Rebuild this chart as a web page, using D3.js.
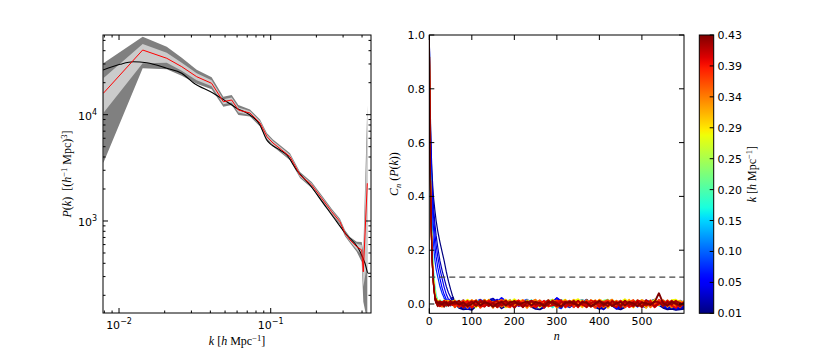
<!DOCTYPE html>
<html>
<head>
<meta charset="utf-8">
<script src="https://cdn.jsdelivr.net/npm/d3@7"></script>
<style>
  body { margin: 0; background: #fff; }
  text { font-family: "DejaVu Sans", sans-serif; font-size: 11px; fill: #000; }
  .math { font-family: "Liberation Serif", serif; font-size: 12px; white-space: pre; }
</style>
</head>
<body>
<svg id="fig" width="830" height="349"></svg>
<script>
// ---------- left panel: P(k) ----------
// measured bins (red line)
const kBins = [0.00788, 0.01432, 0.02063, 0.0259, 0.0325, 0.0408, 0.0487, 0.0553, 0.0612, 0.0730,
  0.0850, 0.0945, 0.1035, 0.1182, 0.1340, 0.156, 0.1863, 0.2169, 0.2523, 0.2862,
  0.309, 0.3334, 0.369, 0.398, 0.4078, 0.4333];
const pBins = [15900, 40600, 33950, 28300, 22770, 19730, 13250, 13740, 11070, 10370,
  8356, 6205, 5416, 4656, 4027, 2710, 2182, 1635, 1223, 984,
  766, 662, 573, 533, 333, 2265];
// band half-widths in dex (inner = light grey, outer = dark grey)
const sig1Up = [0.141, 0.056, 0.053, 0.038, 0.033, 0.028, 0.024, 0.024, 0.024, 0.019,
  0.019, 0.019, 0.019, 0.019, 0.019, 0.014, 0.014, 0.014, 0.014, 0.014,
  0.014, 0.014, 0.028, 0.047, 0.094, 0.56];
const sig1Dn = [0.185, 0.125, 0.041, 0.038, 0.033, 0.028, 0.024, 0.024, 0.024, 0.019,
  0.019, 0.019, 0.019, 0.019, 0.019, 0.014, 0.014, 0.014, 0.014, 0.014,
  0.014, 0.014, 0.028, 0.047, 0.141, 0.75];
const sig2Up = [0.282, 0.125, 0.109, 0.085, 0.066, 0.056, 0.047, 0.047, 0.047, 0.033,
  0.033, 0.033, 0.033, 0.033, 0.033, 0.028, 0.028, 0.028, 0.028, 0.028,
  0.028, 0.028, 0.047, 0.075, 0.188, 0.734];
const sig2Dn = [0.656, 0.172, 0.103, 0.085, 0.066, 0.056, 0.047, 0.047, 0.047, 0.033,
  0.033, 0.033, 0.033, 0.033, 0.033, 0.028, 0.028, 0.028, 0.028, 0.028,
  0.028, 0.028, 0.047, 0.113, 0.282, 1.3];
// model (black line)
const kModel = [0.00784, 0.01015, 0.01242, 0.01523, 0.02063, 0.0259, 0.03089, 0.04183, 0.05129, 0.05971,
  0.0730, 0.0850, 0.0941, 0.1151, 0.1275, 0.1484, 0.1815, 0.2222, 0.2723, 0.3170,
  0.3779, 0.4183, 0.4397, 0.4583];
const pModel = [26330, 29790, 31520, 30850, 27330, 24520, 20000, 15900, 13250, 11490,
  9930, 8000, 5780, 4656, 4180, 3015, 2181, 1467, 985, 738,
  554, 400, 322, 322];

// ---------- right panel: C_n(P(k)) ----------
const lineK = [0.01, 0.03, 0.05, 0.06, 0.08, 0.17, 0.22, 0.28, 0.31, 0.34, 0.35, 0.37, 0.39, 0.40, 0.41, 0.42, 0.43];
const lagDecay = [0, 1, 2, 3, 4, 6, 8, 10, 13, 16, 20, 25, 30, 35, 40, 45, 50, 55];
const lagTail = d3.range(60, 600, 10).concat([599]);
// values in units of 0.001
const decayVals = [
  [1000, 860, 750, 660, 590, 500, 440, 395, 350, 310, 270, 230, 195, 160, 120, 85, 55, 28],
  [1000, 850, 730, 640, 570, 475, 410, 360, 300, 255, 210, 160, 125, 95, 65, 42, 25, 12],
  [1000, 840, 710, 610, 540, 440, 375, 325, 265, 220, 175, 130, 95, 62, 36, 18, 8, 0],
  [1000, 820, 680, 580, 500, 400, 330, 280, 220, 175, 135, 95, 60, 35, 18, 6, 10, 6],
  [1000, 800, 640, 530, 450, 340, 270, 220, 165, 130, 100, 65, 40, 22, 10, 3, -6, 12],
  [1000, 780, 600, 470, 380, 260, 180, 125, 70, 35, 12, -6, 10, 4, -8, 6, 12, -2],
  [1000, 770, 580, 450, 360, 240, 160, 110, 55, 25, 6, 14, -4, 8, 12, 2, 6, 10],
  [1000, 760, 570, 440, 345, 225, 145, 95, 45, 18, 12, 6, -8, 14, 4, 10, -4, 8],
  [1000, 760, 560, 430, 335, 215, 135, 85, 38, 14, -6, 10, 4, -8, 6, 12, 2, -4],
  [1000, 755, 555, 425, 330, 210, 130, 80, 34, 10, 8, 2, -6, 10, 4, -2, 8, 4],
  [1000, 752, 552, 422, 328, 208, 128, 78, 32, 12, -4, 8, -10, 6, 12, -6, 4, 10],
  [1000, 750, 550, 420, 325, 205, 125, 76, 30, 12, 2, -8, 6, 4, -4, 8, -2, 6],
  [1000, 750, 550, 420, 320, 200, 122, 72, 28, 8, -6, 4, 8, -4, 2, -6, 6, -2],
  [1000, 748, 548, 418, 320, 199, 121, 71, 27, 4, 10, -8, 2, 12, -6, 4, 10, -4],
  [1000, 745, 545, 415, 318, 198, 120, 70, 26, 10, 2, -6, 4, 8, -2, 4, -4, 6],
  [1000, 745, 545, 415, 316, 196, 119, 69, 25, 8, -8, 10, 4, -10, 8, -2, 12, 2],
  [1000, 745, 545, 415, 315, 195, 118, 68, 24, 6, 6, 2, -2, 6, 4, -6, 2, 4]
];
const tailVals = [
  [2, -14, -20, -18, -22, -8, 4, 10, 6, 14, 2, -16, -6, 8, 3, -4, 6, 2, -10, -18,
   -20, -12, 4, 12, 18, 6, -4, 2, 8, -2, 6, 16, 2, -12, -18, -14, 2, -6, -16, -20,
   -12, 0, 8, 4, -2, 6, 12, 4, -4, -14, -20, -18, -22, -20, -18],
  [8, -6, -16, -4, 6, 12, 2, -8, 14, 20, 6, -4, 10, -2, -12, 4, 8, -6, 2, -14,
   -4, 6, -8, 10, 20, 8, -6, -12, 4, 10, 14, 4, -8, 2, -10, -20, -6, 10, -8, -14,
   4, 10, -2, -8, 6, -4, 10, 16, 6, -10, -16, -12, -20, -16, -14],
  [-4, 10, -8, -18, -12, 4, 12, 6, -6, 8, 16, 4, -10, -4, 10, 2, -8, 4, 12, 2,
   -8, -14, 2, 8, -4, 14, 6, -6, -10, 4, 10, -2, 6, -8, -14, 2, 8, -4, -18, -8,
   6, -2, 12, 2, -8, -12, 4, 8, -2, -8, -12, -6, -16, -10, -8],
  [12, 4, -6, 6, -10, -4, 8, 14, 2, -6, 8, 22, 10, -4, 6, -8, 2, 10, -4, 8,
   -2, 6, 14, -6, 22, 10, -2, 6, -8, 2, 4, 12, -6, 6, 0, -8, 6, 2, -6, 4,
   10, 6, -4, 8, 12, 2, -6, 6, 14, 4, -4, 4, -6, 2, -2],
  [10, -2, 14, 4, -6, 8, 16, 6, -4, 10, 2, 8, -8, 12, 4, -2, 10, 16, 4, -6,
   12, 2, -4, 8, -10, -16, 4, 12, 0, -8, 14, 6, -4, 2, 10, -6, -12, 6, 2, 12,
   -4, 8, 2, -10, 6, 14, 4, -2, 10, 2, 8, -4, 6, 12, 4],
  [-12, 6, 10, -4, 8, 2, -6, 12, 6, -2, -10, 4, 12, 6, -4, 10, -8, -2, 14, 6,
   -6, 8, 2, -12, 4, 14, 8, -2, 6, -8, 2, -10, 6, 12, 2, -6, 8, 14, 4, -2,
   -10, 6, 12, -2, 4, -8, 2, 10, -6, 6, 12, 2, -6, 8, 2],
  [4, 12, -6, 8, -2, 14, 4, -8, 10, 2, -4, 12, 6, 16, -6, 2, 12, -4, 8, 14,
   4, -8, 10, 16, 6, -2, 12, 4, -6, 8, 14, 2, 10, -4, 6, 12, 16, -2, 8, 4,
   12, -6, 6, 14, 2, 8, -4, 10, 4, 12, 2, 10, 4, -6, 8],
  [14, -10, 6, 16, 2, -12, 8, 4, 16, -8, 8, 14, -12, 4, 18, 6, -10, 14, 2, 12,
   -12, 4, 14, 6, -14, 8, 16, -4, 10, 18, 4, -8, 14, 8, -12, 6, 2, 16, -10, 6,
   18, 4, -12, 8, 14, -8, 2, 16, 6, 12, -10, 14, 16, 4, 10],
  [-10, 12, 2, -14, 14, 4, -6, 16, -2, 8, -12, 8, 16, 2, -8, 10, 14, -12, 4, -6,
   12, 2, -10, 16, 4, 10, -12, 6, 16, 2, -12, 14, 4, -4, 16, 8, -14, 4, 12, -6,
   2, 16, -12, 8, 4, -14, 14, 2, -4, 10, 4, -12, 8, 12, -4],
  [12, -6, 14, 2, -12, 8, -4, 14, 4, -14, 8, -10, 2, 14, -6, 10, 2, -14, 8, 16,
   -6, 8, -4, 12, -12, 4, 14, -8, 2, -6, 12, 2, -10, 14, 4, -12, 8, 16, -6, 2,
   -10, 12, 4, -4, 14, 8, -12, 4, 10, -8, 14, 2, -8, 6, 10],
  [-4, 10, -12, 6, 14, -2, -10, 8, 12, -6, 2, 14, -8, -12, 6, 12, -4, 8, -10, 4,
   14, -6, 2, 10, -12, -4, 12, 6, -8, 10, -2, 12, -8, 6, 14, -10, 2, -6, 12, 4,
   -12, 8, 14, -6, 2, 12, -10, 6, -4, 14, 2, -10, 8, -4, 6],
  [-12, 4, 12, -8, 6, 14, -14, 2, 10, -6, 6, 14, -4, -12, 8, -6, 14, 4, -10, 2,
   12, -14, 6, 2, 14, -8, 4, 12, -12, 8, -6, 12, 2, -14, -2, 8, 14, -6, 4, 12,
   -12, 2, 14, -6, -8, 12, 2, -6, 16, 4, -8, 10, 2, -12, 4],
  [6, -10, -2, 12, -14, 2, 10, -8, 14, 2, -12, 0, 12, -8, 4, 14, -6, 8, -4, -12,
   2, 12, -8, -6, 8, 14, -12, 2, 6, -10, 8, -4, 14, 6, -12, 2, -8, 12, -2, 8,
   6, -12, -4, 14, 2, -6, 12, -10, 8, -4, 12, -6, -14, 4, -2],
  [10, -4, 8, -12, 2, 12, -6, -10, 8, 4, -4, 10, 6, -8, 12, -2, -10, 6, 12, -6,
   4, -12, 8, 2, -4, 12, -8, 10, 4, -12, 10, -6, 2, 12, -10, 4, 8, -4, -12, 10,
   -2, 6, -10, 12, 8, -6, 4, -12, 2, 10, -6, 4, 12, -8, 6],
  [-2, 8, -12, 2, 8, -6, 14, 2, -8, 6, 12, -6, 2, 8, -14, 4, 0, -8, 12, 6,
   -8, 2, 14, -2, -8, 6, 8, -6, 0, 12, -2, -12, 4, 8, 2, -8, 6, -2, 8, -12,
   12, -6, 8, 2, -12, 14, 4, -8, 2, 8, 0, 12, -2, -8, 6],
  [4, 12, -6, -2, 10, -8, 6, 12, -4, 2, -10, 6, 12, -4, 2, 8, -12, 4, 10, -2,
   6, -8, -2, 12, 4, -10, 8, 2, 12, -6, 4, 8, -10, -2, 12, 4, -8, 10, 2, -6,
   12, 2, -6, 8, -10, 4, -4, 10, 6, -8, 8, -2, 10, 4, -6],
  [8, -2, 6, -8, 0, 10, -6, 6, 2, -10, 2, 8, -6, 6, 10, -2, 4, 10, -6, 8,
   2, -6, 8, 6, -2, -10, 4, 8, 2, -6, 8, 4, -8, 2, 10, -2, 6, -8, 2, 8,
   -6, 8, 2, -8, 6, 2, -2, 8, 40, 2, -6, 8, 2, -6, 6]
];
const threshold = 0.1;
const cbTickLabels = ['0.01', '0.05', '0.10', '0.15', '0.20', '0.25', '0.29', '0.34', '0.39', '0.43'];
const kRange = [0.01, 0.43];

// matplotlib "jet"
const jetSeg = {
  r: [[0, 0], [0.35, 0], [0.66, 1], [0.89, 1], [1, 0.5]],
  g: [[0, 0], [0.125, 0], [0.375, 1], [0.64, 1], [0.91, 0], [1, 0]],
  b: [[0, 0.5], [0.11, 1], [0.34, 1], [0.65, 0], [1, 0]]
};
function seg(s, t) {
  for (let i = 1; i < s.length; i++) {
    if (t <= s[i][0]) {
      let f = (t - s[i - 1][0]) / (s[i][0] - s[i - 1][0]);
      return s[i - 1][1] + f * (s[i][1] - s[i - 1][1]);
    }
  }
  return s[s.length - 1][1];
}
function jet(t) {
  t = Math.max(0, Math.min(1, t));
  return d3.rgb(seg(jetSeg.r, t) * 255, seg(jetSeg.g, t) * 255, seg(jetSeg.b, t) * 255).toString();
}

const svg = d3.select('#fig');
svg.append('rect').attr('width', 830).attr('height', 349).attr('fill', '#fff');

// math-ish labels: parts = [text, flags]
function addMath(sel, parts) {
  let off = 0;
  parts.forEach(([t, s]) => {
    let target = s.includes('sup') ? -4.5 : s.includes('sub') ? 3 : 0;
    let ts = sel.append('tspan').text(t).attr('dy', target - off);
    off = target;
    if (s.includes('i')) ts.attr('font-style', 'italic');
    if (target !== 0) ts.attr('font-size', '8.5px');
  });
}

function tickLine(g, x1, y1, x2, y2) {
  g.append('line').attr('x1', x1).attr('y1', y1).attr('x2', x2).attr('y2', y2)
    .attr('stroke', '#000').attr('stroke-width', 1);
}

// ===== left panel =====
const L = { x0: 103, x1: 371, y0: 35, y1: 313 };
const xk = d3.scaleLog().domain([0.00784, 0.4583]).range([L.x0, L.x1]);
const yp = d3.scaleLog().domain([136.3, 56200]).range([L.y1, L.y0]);

svg.append('clipPath').attr('id', 'clipL').append('rect')
  .attr('x', L.x0).attr('y', L.y0).attr('width', L.x1 - L.x0).attr('height', L.y1 - L.y0);

const bins = kBins.map((k, i) => ({ k, p: pBins[i], u1: sig1Up[i], d1: sig1Dn[i], u2: sig2Up[i], d2: sig2Dn[i] }));
const gL = svg.append('g').attr('clip-path', 'url(#clipL)');

gL.append('path').datum(bins)
  .attr('d', d3.area().x(d => xk(d.k)).y0(d => yp(d.p / 10 ** d.d2)).y1(d => yp(d.p * 10 ** d.u2)))
  .attr('fill', '#808080');
gL.append('path').datum(bins)
  .attr('d', d3.area().x(d => xk(d.k)).y0(d => yp(d.p / 10 ** d.d1)).y1(d => yp(d.p * 10 ** d.u1)))
  .attr('fill', '#cbcbcb');
gL.append('path').datum(kModel.map((k, i) => [k, pModel[i]]))
  .attr('d', d3.line().x(d => xk(d[0])).y(d => yp(d[1])).curve(d3.curveMonotoneX))
  .attr('fill', 'none').attr('stroke', '#000').attr('stroke-width', 1.1);
gL.append('path').datum(bins)
  .attr('d', d3.line().x(d => xk(d.k)).y(d => yp(d.p)))
  .attr('fill', 'none').attr('stroke', '#ff0000').attr('stroke-width', 1);

const isMajor = v => Math.abs(Math.log10(v) - Math.round(Math.log10(v))) < 1e-6;
const axL = svg.append('g');
xk.ticks().forEach(v => {
  let len = isMajor(v) ? 5 : 2.5;
  let x = xk(v);
  tickLine(axL, x, L.y1, x, L.y1 - len);
  tickLine(axL, x, L.y0, x, L.y0 + len);
  if (isMajor(v)) {
    let t = axL.append('text').attr('x', x).attr('y', 329).attr('text-anchor', 'middle');
    t.append('tspan').text('10');
    t.append('tspan').text('\u2212' + Math.abs(Math.round(Math.log10(v)))).attr('dy', -5).attr('font-size', '8px');
  }
});
yp.ticks().forEach(v => {
  let len = isMajor(v) ? 5 : 2.5;
  let y = yp(v);
  tickLine(axL, L.x0, y, L.x0 + len, y);
  tickLine(axL, L.x1, y, L.x1 - len, y);
  if (isMajor(v)) {
    let t = axL.append('text').attr('x', 97).attr('y', y + 5).attr('text-anchor', 'end');
    t.append('tspan').text('10');
    t.append('tspan').text(Math.round(Math.log10(v))).attr('dy', -5).attr('font-size', '8px');
  }
});
axL.append('rect').attr('x', L.x0).attr('y', L.y0).attr('width', L.x1 - L.x0).attr('height', L.y1 - L.y0)
  .attr('fill', 'none').attr('stroke', '#000').attr('stroke-width', 1);

addMath(svg.append('text').attr('class', 'math').attr('x', (L.x0 + L.x1) / 2).attr('y', 345).attr('text-anchor', 'middle'),
  [['k', 'i'], [' [', ''], ['h', 'i'], [' Mpc', ''], ['\u22121', 'sup'], [']', '']]);
addMath(svg.append('text').attr('class', 'math').attr('text-anchor', 'middle')
    .attr('transform', `translate(71,${(L.y0 + L.y1) / 2}) rotate(-90)`),
  [['P', 'i'], ['(', ''], ['k', 'i'], [')  [(', ''], ['h', 'i'], ['\u22121', 'sup'], [' Mpc)', ''], ['3', 'sup'], [']', '']]);

// ===== right panel =====
const R = { x0: 429.3, x1: 684, y0: 35, y1: 313.3 };
const xn = d3.scaleLinear().domain([0, 599]).range([R.x0, R.x1]);
const yc = d3.scaleLinear().domain([-0.0346, 1]).range([R.y1, R.y0]);
const kScale = d3.scaleLinear().domain(kRange).range([0, 1]).clamp(true);

svg.append('clipPath').attr('id', 'clipR').append('rect')
  .attr('x', R.x0).attr('y', R.y0).attr('width', R.x1 - R.x0).attr('height', R.y1 - R.y0);
const gR = svg.append('g').attr('clip-path', 'url(#clipR)');

const corrLine = d3.line().x(d => xn(d[0])).y(d => yc(d[1]));
lineK.forEach((k, i) => {
  let pts = lagDecay.map((n, j) => [n, decayVals[i][j] / 1000])
    .concat(lagTail.map((n, j) => [n, tailVals[i][j] / 1000]))
    .filter(d => d[1] !== undefined && !isNaN(d[1]));
  // thin while falling, heavier once in the noise around zero
  let cut = pts.findIndex(d => d[1] < 0.03);
  gR.append('path').datum(pts.slice(0, cut + 1)).attr('d', corrLine)
    .attr('fill', 'none').attr('stroke', jet(kScale(k))).attr('stroke-width', 1.2);
  gR.append('path').datum(pts.slice(cut)).attr('d', corrLine)
    .attr('fill', 'none').attr('stroke', jet(kScale(k))).attr('stroke-width', 1.9)
    .attr('stroke-linejoin', 'round');
});

gR.append('line').attr('x1', R.x0).attr('x2', R.x1).attr('y1', yc(threshold)).attr('y2', yc(threshold))
  .attr('stroke', '#444').attr('stroke-width', 1.2).attr('stroke-dasharray', '6,4');

const axR = svg.append('g');
xn.ticks(6).forEach(v => {
  let x = xn(v);
  tickLine(axR, x, R.y1, x, R.y1 - 5);
  tickLine(axR, x, R.y0, x, R.y0 + 5);
  axR.append('text').attr('x', x).attr('y', 325).attr('text-anchor', 'middle').text(v);
});
yc.ticks(5).forEach(v => {
  let y = yc(v);
  tickLine(axR, R.x0, y, R.x0 + 5, y);
  tickLine(axR, R.x1, y, R.x1 - 5, y);
  axR.append('text').attr('x', 425).attr('y', y + 4).attr('text-anchor', 'end').text(d3.format('.1f')(v));
});
axR.append('rect').attr('x', R.x0).attr('y', R.y0).attr('width', R.x1 - R.x0).attr('height', R.y1 - R.y0)
  .attr('fill', 'none').attr('stroke', '#000').attr('stroke-width', 1);

addMath(svg.append('text').attr('class', 'math').attr('x', (R.x0 + R.x1) / 2).attr('y', 340).attr('text-anchor', 'middle'),
  [['n', 'i']]);
addMath(svg.append('text').attr('class', 'math').attr('text-anchor', 'middle')
    .attr('transform', `translate(398,${(R.y0 + R.y1) / 2}) rotate(-90)`),
  [['C', 'i'], ['n', 'i sub'], [' (', ''], ['P', 'i'], ['(', ''], ['k', 'i'], ['))', '']]);

// ===== colorbar =====
const CB = { x0: 699.3, x1: 713.7, y0: 35, y1: 313.3 };
const grad = svg.append('defs').append('linearGradient').attr('id', 'jetGrad')
  .attr('x1', 0).attr('y1', 1).attr('x2', 0).attr('y2', 0);
d3.range(0, 1.0001, 0.02).forEach(t => {
  grad.append('stop').attr('offset', t).attr('stop-color', jet(t));
});
svg.append('rect').attr('x', CB.x0).attr('y', CB.y0).attr('width', CB.x1 - CB.x0).attr('height', CB.y1 - CB.y0)
  .attr('fill', 'url(#jetGrad)').attr('stroke', '#000').attr('stroke-width', 1);
const cbPos = d3.scalePoint().domain(cbTickLabels).range([CB.y1, CB.y0]);
cbTickLabels.forEach(lab => {
  let y = cbPos(lab);
  tickLine(svg, CB.x1, y, CB.x1 - 4, y);
  svg.append('text').attr('x', 717.5).attr('y', y + 4).text(lab);
});
addMath(svg.append('text').attr('class', 'math').attr('text-anchor', 'middle')
    .attr('transform', `translate(756,${(CB.y0 + CB.y1) / 2}) rotate(-90)`),
  [['k', 'i'], [' [', ''], ['h', 'i'], [' Mpc', ''], ['\u22121', 'sup'], [']', '']]);
</script>
</body>
</html>
